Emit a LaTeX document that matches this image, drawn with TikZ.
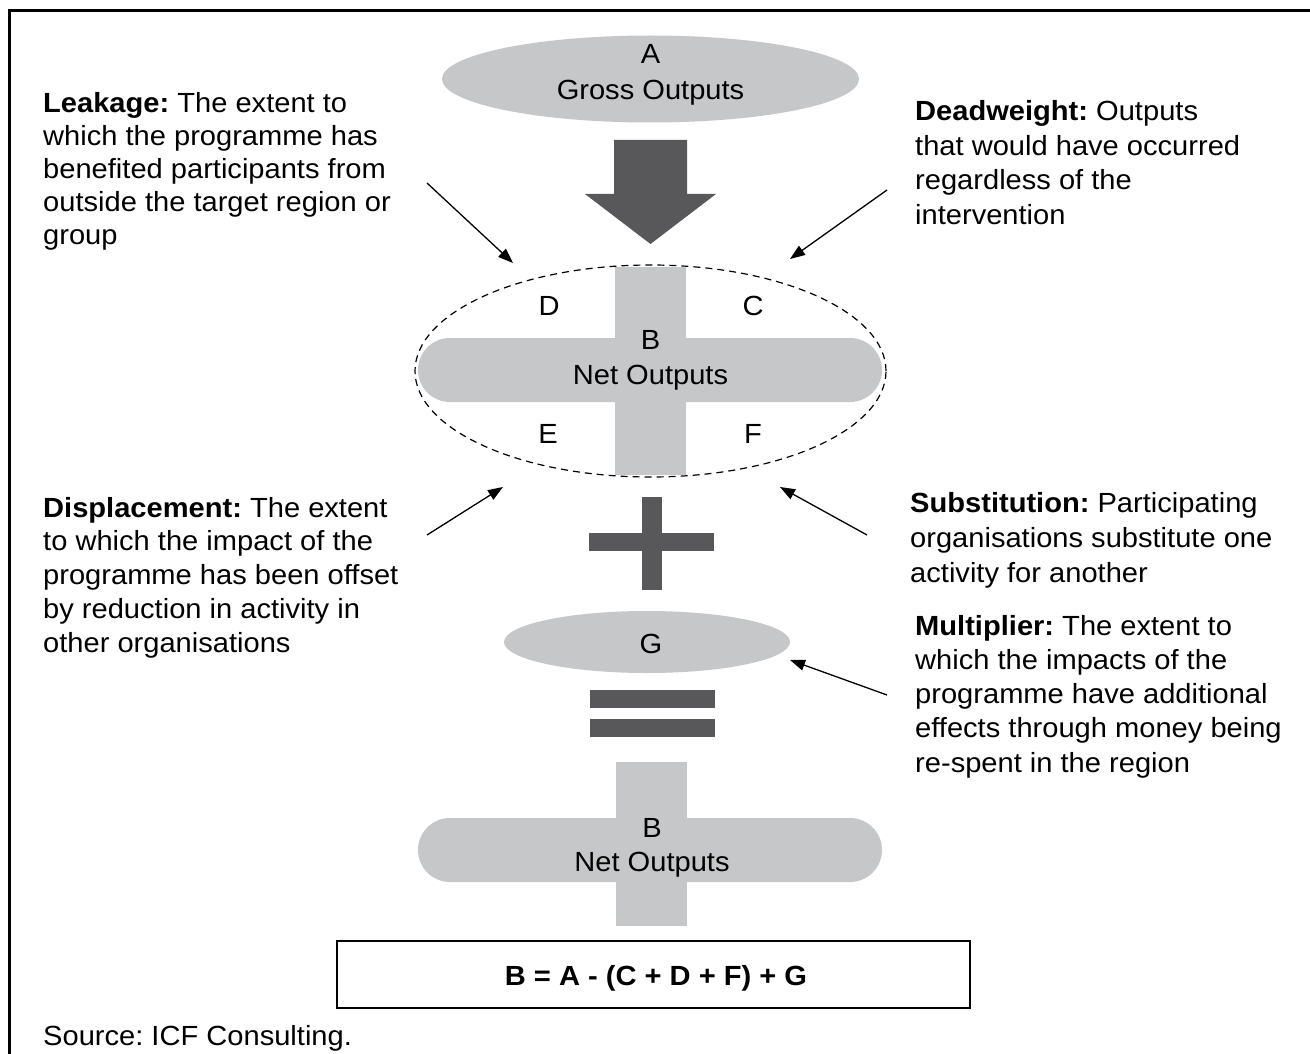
\documentclass[tikz,border=0pt]{standalone}
\usepackage{fontspec}
\setmainfont{Liberation Sans}[FakeStretch=1.05]
\usetikzlibrary{arrows.meta,shapes.geometric}
\definecolor{lightg}{HTML}{C6C7C9}
\definecolor{darkg}{HTML}{58585A}
\frenchspacing
\newcommand{\leftlines}[1]{\begin{tabular}[t]{@{}l@{}}#1\end{tabular}}
\newcommand{\midlines}[1]{\begin{tabular}[t]{@{}c@{}}#1\end{tabular}}
\begin{document}
\begin{tikzpicture}[x=1pt,y=-1pt,
  txt/.style={inner sep=0pt, anchor=base west},
  lbl/.style={inner sep=0pt, anchor=base},
  ptr/.style={line width=1.3pt, -{Triangle[length=15pt,width=11pt]}},
  lightshape/.style={fill=lightg, draw=none, inner sep=0pt},
  darkshape/.style={fill=darkg, draw=none, inner sep=0pt}]
\useasboundingbox (0,0) rectangle (1310,1054);
\fill[white] (0,0) rectangle (1310,1054);
% frame (top and left only)
\draw[line width=2.5pt] (9.5,1054) -- (9.5,10.5) -- (1310,10.5);

% A ellipse
\node[ellipse, lightshape, minimum width=417pt, minimum height=87pt] (A) at (650.5,79) {};
\node[lbl, font=\fontsize{27.7}{36}\selectfont] (Atxt) at (650.5,64) {\midlines{A\\Gross Outputs}};

% big down arrow
\fill[darkg] (614,140) -- (687,140) -- (687,194) -- (716,194) -- (650.5,244) -- (585,194) -- (614,194) -- cycle;

% upper B cross
\node[rectangle, rounded corners=32pt, lightshape, minimum width=464pt, minimum height=64pt] (Bh) at (650,370) {};
\node[rectangle, lightshape, minimum width=71pt, minimum height=208pt] (Bv) at (650.5,371) {};
\node[lbl, font=\fontsize{27.7}{35}\selectfont] (Btxt) at (650.5,349) {\midlines{B\\Net Outputs}};
\node[ellipse, draw, line width=1.2pt, dash pattern=on 7pt off 5pt, minimum width=471pt, minimum height=212pt, inner sep=0pt] (ring) at (650.5,371) {};
\node[lbl, font=\fontsize{27.7}{34}\selectfont] (D) at (549,315) {D};
\node[lbl, font=\fontsize{27.7}{34}\selectfont] (C) at (753,315) {C};
\node[lbl, font=\fontsize{27.7}{34}\selectfont] (E) at (548,443) {E};
\node[lbl, font=\fontsize{27.7}{34}\selectfont] (F) at (753,443) {F};

% plus sign
\node[rectangle, darkshape, minimum width=20pt, minimum height=93pt] (plusv) at (652,543.5) {};
\node[rectangle, darkshape, minimum width=125pt, minimum height=18pt] (plush) at (651.5,542) {};

% G ellipse
\node[ellipse, lightshape, minimum width=286pt, minimum height=62pt] (G) at (647,642) {};
\node[lbl, font=\fontsize{27.7}{34}\selectfont] (Gtxt) at (651,653) {G};

% equals sign
\node[rectangle, darkshape, minimum width=125pt, minimum height=18pt] (eq1) at (652.5,699) {};
\node[rectangle, darkshape, minimum width=125pt, minimum height=18pt] (eq2) at (652.5,728) {};

% lower B cross
\node[rectangle, rounded corners=32pt, lightshape, minimum width=464pt, minimum height=64pt] (B2h) at (650,850) {};
\node[rectangle, lightshape, minimum width=71pt, minimum height=164pt] (B2v) at (651.5,844) {};
\node[lbl, font=\fontsize{27.7}{34}\selectfont] (B2txt) at (652,837) {\midlines{B\\Net Outputs}};

% formula box
\node[rectangle, draw, line width=1.5pt, minimum width=633pt, minimum height=67pt, inner sep=0pt] (fbox) at (653.5,974.5) {};
\node[lbl, font=\fontsize{27.7}{34}\selectfont\bfseries] (ftxt) at (656,985) {B = A - (C + D + F) + G};

% side texts
\node[txt, font=\fontsize{27.7}{33}\selectfont] (leak) at (43,113)
  {\leftlines{\textbf{Leakage:} The extent to\\which the programme has\\benefited participants from\\outside the target region or\\group}};
\node[txt, font=\fontsize{27.7}{34.5}\selectfont] (dead) at (915,121)
  {\leftlines{\textbf{Deadweight:} Outputs\\that would have occurred\\regardless of the\\intervention}};
\node[txt, font=\fontsize{27.7}{33.8}\selectfont] (disp) at (43,517)
  {\leftlines{\textbf{Displacement:} The extent\\to which the impact of the\\programme has been offset\\by reduction in activity in\\other organisations}};
\node[txt, font=\fontsize{27.7}{35}\selectfont] (subs) at (910,512)
  {\leftlines{\textbf{Substitution:} Participating\\organisations substitute one\\activity for another}};
\node[txt, font=\fontsize{27.7}{34.3}\selectfont] (mult) at (915,635)
  {\leftlines{\textbf{Multiplier:} The extent to\\which the impacts of the\\programme have additional\\effects through money being\\re-spent in the region}};
\node[txt, font=\fontsize{27.7}{34}\selectfont] (src) at (43,1045) {Source: ICF Consulting.};

% pointer arrows
\coordinate (l0) at (427,183); \coordinate (l1) at (513,263);
\coordinate (d0) at (887,190); \coordinate (d1) at (790,259);
\coordinate (p0) at (427,535); \coordinate (p1) at (503,487);
\coordinate (s0) at (867,535); \coordinate (s1) at (780,487);
\coordinate (m0) at (887,695); \coordinate (m1) at (790,660);
\draw[ptr] (l0) -- (l1);
\draw[ptr] (d0) -- (d1);
\draw[ptr] (p0) -- (p1);
\draw[ptr] (s0) -- (s1);
\draw[ptr] (m0) -- (m1);
\end{tikzpicture}
\end{document}
